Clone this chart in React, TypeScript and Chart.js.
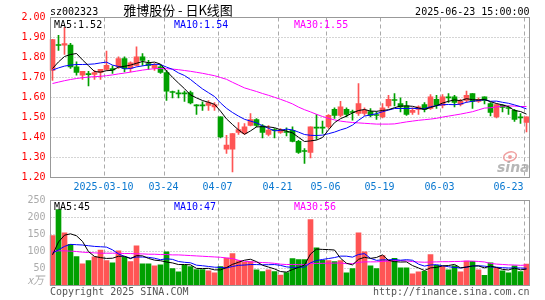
import React, { useEffect, useRef } from "react";
import { Chart, registerables } from "chart.js";

Chart.register(...registerables);

const MONO = "'DejaVu Sans Mono', 'Liberation Mono', monospace";
const CJK = "'Noto Sans CJK SC', sans-serif";

// ---------- data ----------
const dates = [
  "2025-02-25", "2025-02-26", "2025-02-27", "2025-02-28",
  "2025-03-03", "2025-03-04", "2025-03-05", "2025-03-06", "2025-03-07",
  "2025-03-10", "2025-03-11", "2025-03-12", "2025-03-13", "2025-03-14",
  "2025-03-17", "2025-03-18", "2025-03-19", "2025-03-20", "2025-03-21",
  "2025-03-24", "2025-03-25", "2025-03-26", "2025-03-27", "2025-03-28",
  "2025-03-31", "2025-04-01", "2025-04-02", "2025-04-03",
  "2025-04-07", "2025-04-08", "2025-04-09", "2025-04-10", "2025-04-11",
  "2025-04-14", "2025-04-15", "2025-04-16", "2025-04-17", "2025-04-18",
  "2025-04-21", "2025-04-22", "2025-04-23", "2025-04-24", "2025-04-25",
  "2025-04-28", "2025-04-29", "2025-04-30",
  "2025-05-06", "2025-05-07", "2025-05-08", "2025-05-09",
  "2025-05-12", "2025-05-13", "2025-05-14", "2025-05-15", "2025-05-16",
  "2025-05-19", "2025-05-20", "2025-05-21", "2025-05-22", "2025-05-23",
  "2025-05-26", "2025-05-27", "2025-05-28", "2025-05-29", "2025-05-30",
  "2025-06-03", "2025-06-04", "2025-06-05", "2025-06-06",
  "2025-06-09", "2025-06-10", "2025-06-11", "2025-06-12", "2025-06-13",
  "2025-06-16", "2025-06-17", "2025-06-18", "2025-06-19", "2025-06-20",
  "2025-06-23",
];

const openPrice = [
  1.736, 1.865, 1.862, 1.862, 1.753, 1.712, 1.72, 1.715, 1.725, 1.741,
  1.745, 1.753, 1.795, 1.745, 1.761, 1.803, 1.77, 1.748, 1.753, 1.725,
  1.63, 1.622, 1.622, 1.625, 1.562, 1.562, 1.56, 1.553, 1.503, 1.342,
  1.342, 1.425, 1.42, 1.46, 1.49, 1.458, 1.415, 1.438, 1.425, 1.428,
  1.436, 1.381, 1.333, 1.325, 1.45, 1.45, 1.453, 1.541, 1.511, 1.541,
  1.528, 1.52, 1.52, 1.53, 1.513, 1.503, 1.558, 1.588, 1.57, 1.558,
  1.525, 1.541, 1.565, 1.545, 1.591, 1.561, 1.6, 1.603, 1.565, 1.586,
  1.62, 1.581, 1.603, 1.57, 1.503, 1.562, 1.547, 1.536, 1.5, 1.475,
];
const highPrice = [
  1.891, 1.911, 1.951, 1.871, 1.778, 1.731, 1.731, 1.736, 1.741, 1.832,
  1.758, 1.803, 1.803, 1.778, 1.853, 1.82, 1.786, 1.77, 1.761, 1.736,
  1.632, 1.637, 1.632, 1.632, 1.565, 1.578, 1.585, 1.575, 1.503, 1.411,
  1.42, 1.475, 1.47, 1.52, 1.495, 1.465, 1.46, 1.445, 1.445, 1.448,
  1.453, 1.386, 1.345, 1.453, 1.515, 1.482, 1.515, 1.548, 1.581, 1.548,
  1.537, 1.67, 1.548, 1.545, 1.528, 1.57, 1.611, 1.62, 1.598, 1.581,
  1.548, 1.558, 1.575, 1.615, 1.611, 1.615, 1.62, 1.611, 1.591, 1.632,
  1.62, 1.598, 1.603, 1.575, 1.57, 1.565, 1.558, 1.541, 1.52, 1.503,
];
const lowPrice = [
  1.686, 1.836, 1.815, 1.745, 1.712, 1.691, 1.658, 1.691, 1.69, 1.736,
  1.72, 1.745, 1.728, 1.728, 1.758, 1.761, 1.741, 1.736, 1.72, 1.586,
  1.598, 1.598, 1.581, 1.568, 1.515, 1.536, 1.536, 1.536, 1.398, 1.32,
  1.228, 1.415, 1.415, 1.458, 1.453, 1.398, 1.408, 1.398, 1.42, 1.408,
  1.378, 1.32, 1.27, 1.298, 1.391, 1.42, 1.445, 1.495, 1.503, 1.503,
  1.487, 1.511, 1.511, 1.503, 1.491, 1.498, 1.548, 1.558, 1.528, 1.511,
  1.515, 1.515, 1.528, 1.541, 1.545, 1.548, 1.575, 1.553, 1.558, 1.575,
  1.545, 1.575, 1.568, 1.508, 1.498, 1.528, 1.515, 1.481, 1.47, 1.428,
];
const closePrice = [
  1.89, 1.86, 1.87, 1.753, 1.725, 1.731, 1.714, 1.725, 1.741, 1.761,
  1.738, 1.795, 1.745, 1.773, 1.803, 1.786, 1.761, 1.761, 1.725, 1.632,
  1.625, 1.618, 1.618, 1.573, 1.558, 1.558, 1.575, 1.565, 1.403, 1.362,
  1.42, 1.44, 1.453, 1.49, 1.46, 1.425, 1.437, 1.435, 1.437, 1.425,
  1.381, 1.325, 1.33, 1.453, 1.447, 1.447, 1.511, 1.511, 1.553, 1.515,
  1.525, 1.57, 1.537, 1.511, 1.51, 1.548, 1.591, 1.585, 1.553, 1.515,
  1.536, 1.553, 1.541, 1.603, 1.561, 1.603, 1.598, 1.575, 1.581, 1.611,
  1.581, 1.591, 1.586, 1.525, 1.565, 1.55, 1.545, 1.49, 1.498, 1.503,
];

const priceMA5 = [
  1.745, 1.778, 1.805, 1.815, 1.82, 1.788, 1.759, 1.73, 1.727, 1.734,
  1.736, 1.752, 1.756, 1.762, 1.771, 1.78, 1.774, 1.777, 1.767, 1.733,
  1.701, 1.672, 1.644, 1.613, 1.598, 1.585, 1.576, 1.566, 1.532, 1.493,
  1.465, 1.438, 1.416, 1.433, 1.453, 1.454, 1.453, 1.449, 1.439, 1.432,
  1.423, 1.401, 1.38, 1.383, 1.387, 1.4, 1.438, 1.474, 1.494, 1.507,
  1.523, 1.535, 1.54, 1.532, 1.531, 1.535, 1.539, 1.549, 1.557, 1.558,
  1.556, 1.548, 1.54, 1.55, 1.559, 1.572, 1.581, 1.588, 1.584, 1.594,
  1.589, 1.588, 1.59, 1.579, 1.57, 1.563, 1.554, 1.535, 1.53, 1.517,
];
const priceMA10 = [
  1.737, 1.748, 1.757, 1.762, 1.765, 1.765, 1.766, 1.768, 1.773, 1.777,
  1.762, 1.755, 1.743, 1.745, 1.753, 1.758, 1.763, 1.766, 1.765, 1.752,
  1.741, 1.723, 1.71, 1.69, 1.666, 1.643, 1.624, 1.605, 1.573, 1.546,
  1.525, 1.507, 1.491, 1.482, 1.473, 1.459, 1.446, 1.433, 1.436, 1.442,
  1.438, 1.427, 1.415, 1.411, 1.41, 1.412, 1.419, 1.427, 1.438, 1.447,
  1.462, 1.486, 1.507, 1.513, 1.519, 1.529, 1.537, 1.545, 1.545, 1.545,
  1.546, 1.544, 1.544, 1.554, 1.559, 1.564, 1.565, 1.564, 1.567, 1.576,
  1.581, 1.585, 1.589, 1.581, 1.582, 1.576, 1.571, 1.563, 1.554, 1.543,
];
const priceMA30 = [
  1.67, 1.677, 1.684, 1.69, 1.695, 1.699, 1.702, 1.704, 1.706, 1.709,
  1.713, 1.718, 1.722, 1.727, 1.732, 1.737, 1.741, 1.744, 1.745, 1.744,
  1.742, 1.739, 1.735, 1.731, 1.726, 1.721, 1.715, 1.709, 1.7, 1.691,
  1.676, 1.662, 1.648, 1.639, 1.63, 1.62, 1.611, 1.601, 1.591, 1.58,
  1.568, 1.552, 1.539, 1.528, 1.516, 1.505, 1.496, 1.488, 1.482, 1.478,
  1.475, 1.473, 1.471, 1.469, 1.467, 1.467, 1.467, 1.468, 1.473, 1.478,
  1.482, 1.486, 1.489, 1.492, 1.496, 1.502, 1.507, 1.512, 1.517, 1.523,
  1.529, 1.538, 1.547, 1.549, 1.553, 1.557, 1.558, 1.557, 1.555, 1.555,
];

const volume = [
  147, 223, 155, 121, 85, 64, 73, 84, 104, 73,
  67, 102, 83, 70, 117, 64, 64, 58, 61, 99,
  50, 40, 59, 56, 47, 47, 43, 37, 56, 81,
  94, 73, 68, 70, 46, 41, 46, 41, 31, 38,
  79, 76, 76, 194, 111, 74, 73, 70, 73, 37,
  50, 155, 99, 58, 50, 88, 75, 80, 52, 52,
  34, 40, 42, 91, 59, 56, 46, 58, 40, 72,
  71, 46, 30, 67, 51, 43, 37, 58, 41, 63,
];
const volMA5 = [
  90, 128, 148, 152, 146.2, 129.6, 99.6, 85.4, 82, 79.6,
  80.2, 86, 85.8, 79, 87.8, 87.2, 79.6, 74.6, 72.8, 69.2,
  66.4, 61.6, 61.8, 60.8, 50.4, 49.8, 50.4, 46, 46, 52.8,
  62.2, 68.2, 74.4, 77.2, 70.2, 59.6, 54.2, 48.8, 41, 39.4,
  47, 53, 60, 92.6, 107.2, 106.2, 105.6, 104.4, 80.2, 65.4,
  60.6, 77, 82.8, 79.8, 82.4, 90, 74, 70.2, 69, 69.4,
  58.6, 51.6, 44, 51.8, 53.2, 57.6, 58.8, 62, 51.8, 54.4,
  57.4, 57.4, 51.8, 57.2, 53, 47.4, 45.6, 51.2, 46, 48.4,
];
const volMA10 = [
  95, 105, 115, 121, 120, 119, 117, 115, 114, 112.9,
  104.9, 92.8, 85.6, 80.5, 83.7, 83.7, 82.8, 80.2, 75.9, 78.5,
  76.8, 70.6, 68.2, 66.8, 59.8, 58.1, 56, 53.9, 53.4, 51.6,
  56, 59.3, 60.2, 61.6, 61.5, 60.9, 61.2, 61.6, 59.1, 54.8,
  53.3, 53.6, 54.4, 66.8, 73.3, 76.6, 79.3, 82.2, 86.4, 86.3,
  83.4, 91.3, 93.6, 80, 73.9, 75.3, 75.5, 76.5, 74.4, 75.9,
  74.3, 62.8, 57.1, 60.4, 61.3, 58.1, 55.2, 53, 51.8, 53.8,
  57.5, 58.1, 56.9, 54.5, 53.7, 52.4, 51.5, 51.5, 51.6, 50.7,
];
const volMA30 = [
  100, 102, 102, 101, 100, 98, 97, 96, 95, 95,
  95, 95, 94, 94, 93, 93, 92, 92, 91, 91,
  90, 90, 89, 88, 87, 86, 85, 84, 83, 81,
  79.2, 74.2, 71.3, 69.6, 68.3, 67.6, 66.7, 65.2, 62.8, 61.6,
  62, 61.2, 60.9, 65.1, 64.9, 65.2, 65.5, 65.9, 66.3, 64.2,
  64.2, 68.1, 69.4, 69.5, 69.6, 70.9, 72, 73.4, 73.3, 72.3,
  70.3, 69.2, 68.4, 69.1, 69.5, 70, 70, 70.6, 70.9, 72,
  71.7, 70.7, 69.2, 65, 63, 61.9, 60.7, 60.3, 59.3, 60.1,
];

const tickDates = [
  "2025-03-10", "2025-03-24", "2025-04-07", "2025-04-21",
  "2025-05-06", "2025-05-19", "2025-06-03", "2025-06-23",
];
const tickLabels = ["2025-03-10", "03-24", "04-07", "04-21", "05-06", "05-19", "06-03", "06-23"];
const priceGridValues = [1.3, 1.4, 1.5, 1.6, 1.7, 1.8, 1.9];
const volumeGridValues = [50, 100, 150, 200];
const priceMALabels = ["MA5:1.52", "MA10:1.54", "MA30:1.55"];
const volumeMALabels = ["MA5:45", "MA10:47", "MA30:56"];

// ---------- styles ----------
const UP = "#ff5555";
const DOWN = "#00a000";
const MA_COLORS = ["#000000", "#0000ff", "#ff00ff"];
const MA_X = [54, 174, 294];
const candleColors = closePrice.map((c, i) => (c >= openPrice[i] ? UP : DOWN));

function drawGrid(chart: any, hValues: number[]) {
  const { ctx, chartArea: a, scales } = chart;
  const x = scales.x;
  const y = scales.y;
  ctx.save();
  ctx.lineWidth = 1;
  ctx.strokeStyle = "#aaaaaa";
  ctx.setLineDash([1, 2]);
  for (const v of hValues) {
    const py = Math.round(y.getPixelForValue(v) - 0.5) + 0.5;
    ctx.beginPath();
    ctx.moveTo(a.left + 1, py);
    ctx.lineTo(a.right, py);
    ctx.stroke();
  }
  ctx.setLineDash([4, 3]);
  for (const d of tickDates) {
    const idx = dates.indexOf(d);
    const px = Math.round(x.getPixelForValue(idx) - 2.5) + 0.5;
    ctx.beginPath();
    ctx.moveTo(px, a.top);
    ctx.lineTo(px, a.bottom);
    ctx.stroke();
  }
  ctx.restore();
}

function drawFrame(chart: any) {
  const { ctx, chartArea: a } = chart;
  ctx.save();
  ctx.setLineDash([]);
  ctx.lineWidth = 1;
  ctx.strokeStyle = "#999999";
  ctx.strokeRect(a.left + 1, a.top, a.right - a.left - 1, a.bottom - a.top);
  ctx.restore();
}

const mainDecor = {
  id: "mainDecor",
  beforeDatasetsDraw(chart: any) {
    drawGrid(chart, priceGridValues);
  },
  afterDraw(chart: any) {
    const { ctx, chartArea: a, scales } = chart;
    drawFrame(chart);
    ctx.save();
    ctx.textBaseline = "alphabetic";
    ctx.font = `10px ${MONO}`;
    ctx.fillStyle = "#000";
    ctx.textAlign = "left";
    ctx.fillText("sz002323", 50, 15);
    ctx.textAlign = "right";
    ctx.fillText("2025-06-23 15:00:00", 529.5, 15);
    ctx.font = `13px ${CJK}`;
    ctx.textAlign = "center";
    ctx.fillText("雅博股份 - 日K线图", 178, 14.5);
    ctx.font = `10px ${MONO}`;
    ctx.textAlign = "left";
    priceMALabels.forEach((t, i) => {
      ctx.fillStyle = MA_COLORS[i];
      ctx.fillText(t, MA_X[i], 27.5);
    });
    // date labels
    ctx.fillStyle = "#0a78d0";
    ctx.textAlign = "center";
    tickDates.forEach((d, i) => {
      const idx = dates.indexOf(d);
      let cx = scales.x.getPixelForValue(idx) - 3;
      const w = ctx.measureText(tickLabels[i]).width;
      if (cx + w / 2 > a.right - 6) cx = a.right - 6 - w / 2;
      ctx.fillText(tickLabels[i], cx, 190);
    });
    // sina watermark
    ctx.strokeStyle = "rgba(235,130,130,0.75)";
    ctx.lineWidth = 1.5;
    ctx.beginPath();
    ctx.ellipse(510, 156.5, 6.5, 4.5, -0.3, 0, Math.PI * 2);
    ctx.stroke();
    ctx.fillStyle = "rgba(235,130,130,0.75)";
    ctx.beginPath();
    ctx.arc(510, 157, 2, 0, Math.PI * 2);
    ctx.fill();
    ctx.fillStyle = "rgba(165,165,165,0.8)";
    ctx.font = `italic bold 14px 'DejaVu Sans', sans-serif`;
    ctx.textAlign = "left";
    ctx.fillText("sina", 497, 171.5);
    ctx.restore();
  },
};

const volDecor = {
  id: "volDecor",
  beforeDatasetsDraw(chart: any) {
    drawGrid(chart, volumeGridValues);
  },
  afterDraw(chart: any) {
    const { ctx } = chart;
    drawFrame(chart);
    ctx.save();
    ctx.textBaseline = "alphabetic";
    ctx.font = `10px ${MONO}`;
    ctx.textAlign = "left";
    volumeMALabels.forEach((t, i) => {
      ctx.fillStyle = MA_COLORS[i];
      ctx.fillText(t, MA_X[i], 20);
    });
    ctx.fillStyle = "#aaaaaa";
    ctx.textAlign = "right";
    ctx.font = `italic 11px ${CJK}`;
    ctx.fillText("x万", 44, 94);
    ctx.font = `10px ${MONO}`;
    ctx.fillStyle = "#555555";
    ctx.textAlign = "left";
    ctx.fillText("Copyright 2025 SINA.COM", 50, 105);
    ctx.textAlign = "right";
    ctx.fillText("http://finance.sina.com.cn", 529.5, 105);
    ctx.restore();
  },
};

function lineDs(label: string, data: number[], color: string) {
  return {
    type: "line" as const,
    label,
    data,
    borderColor: color,
    borderWidth: 1,
    pointRadius: 0,
    fill: false,
    tension: 0,
    order: 0,
  };
}

export default function App() {
  const mainRef = useRef<HTMLCanvasElement>(null);
  const volRef = useRef<HTMLCanvasElement>(null);

  useEffect(() => {
    const main = new Chart(mainRef.current as HTMLCanvasElement, {
      type: "bar",
      data: {
        labels: dates,
        datasets: [
          lineDs("MA5", priceMA5, MA_COLORS[0]),
          lineDs("MA10", priceMA10, MA_COLORS[1]),
          lineDs("MA30", priceMA30, MA_COLORS[2]),
          {
            type: "bar",
            label: "body",
            data: dates.map((_, i) => [openPrice[i], closePrice[i]]),
            backgroundColor: candleColors,
            borderWidth: 0,
            barThickness: 5,
            grouped: false,
            minBarLength: 1,
            order: 1,
          },
          {
            type: "bar",
            label: "wick",
            data: dates.map((_, i) => [lowPrice[i], highPrice[i]]),
            backgroundColor: candleColors,
            borderWidth: 0,
            barThickness: 1,
            grouped: false,
            order: 2,
          },
        ] as any,
      },
      options: {
        animation: false,
        responsive: false,
        maintainAspectRatio: false,
        events: [],
        layout: { padding: { left: 0.5, right: 15.5, top: 17.5, bottom: 17.5 } },
        plugins: { legend: { display: false }, tooltip: { enabled: false } },
        scales: {
          x: { type: "category", display: false, offset: true },
          y: {
            min: 1.2,
            max: 2.0,
            grid: { display: false, drawTicks: false },
            border: { display: false },
            ticks: {
              stepSize: 0.1,
              padding: 4,
              color: "#ff0000",
              font: { family: MONO, size: 10 },
              callback: (v: any) => Number(v).toFixed(2),
            },
            afterFit: (s: any) => {
              s.width = 49;
            },
          },
        },
      } as any,
      plugins: [mainDecor],
    });

    const vol = new Chart(volRef.current as HTMLCanvasElement, {
      type: "bar",
      data: {
        labels: dates,
        datasets: [
          lineDs("MA5", volMA5, MA_COLORS[0]),
          lineDs("MA10", volMA10, MA_COLORS[1]),
          lineDs("MA30", volMA30, MA_COLORS[2]),
          {
            type: "bar",
            label: "volume",
            data: volume,
            backgroundColor: candleColors,
            borderWidth: 0,
            barThickness: 5,
            order: 1,
          },
        ] as any,
      },
      options: {
        animation: false,
        responsive: false,
        maintainAspectRatio: false,
        events: [],
        layout: { padding: { left: 0.5, right: 15.5, top: 10.5, bottom: 14.5 } },
        plugins: { legend: { display: false }, tooltip: { enabled: false } },
        scales: {
          x: { type: "category", display: false, offset: true },
          y: {
            min: 0,
            max: 250,
            grid: { display: false, drawTicks: false },
            border: { display: false },
            ticks: {
              stepSize: 50,
              padding: 4,
              color: "#aaaaaa",
              font: { family: MONO, size: 10 },
              callback: (v: any) => (Number(v) === 0 ? "" : String(v)),
            },
            afterFit: (s: any) => {
              s.width = 49;
            },
          },
        },
      } as any,
      plugins: [volDecor],
    });

    return () => {
      main.destroy();
      vol.destroy();
    };
  }, []);

  return (
    <div style={{ position: "fixed", left: 0, top: 0, width: 545, height: 300, background: "#ffffff" }}>
      <canvas
        ref={mainRef}
        width={545}
        height={195}
        style={{ position: "absolute", left: 0, top: 0, width: 545, height: 195 }}
      />
      <canvas
        ref={volRef}
        width={545}
        height={110}
        style={{ position: "absolute", left: 0, top: 190, width: 545, height: 110 }}
      />
    </div>
  );
}
